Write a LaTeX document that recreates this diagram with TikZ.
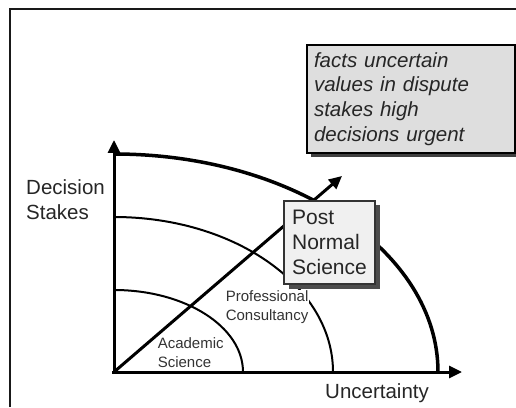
\documentclass[tikz,border=0pt]{standalone}
\usepackage{fontspec}
\setmainfont{Liberation Sans}
\usetikzlibrary{arrows.meta,shadows}
\begin{document}
\begin{tikzpicture}[x=1pt,y=1pt,
  axisline/.style={line width=3pt, -{Triangle[length=13pt,width=12pt]}},
  thickarc/.style={line width=3.5pt},
  thinarc/.style={line width=2pt},
  biglabel/.style={font=\fontsize{20.5}{25}\selectfont, align=left, inner sep=0pt, text=black!85},
  smalllabel/.style={font=\fontsize{15}{19}\selectfont, align=left, inner sep=0.6pt, fill=white, text=black!80},
  pnsbox/.style={draw=black!80, line width=1.3pt, fill=black!6,
    font=\fontsize{21}{25}\selectfont, align=left, text=black!85,
    minimum width=91pt, minimum height=83pt, inner sep=0pt,
    drop shadow={shadow xshift=4.5pt, shadow yshift=-4.5pt, fill=black!70, opacity=1}},
  factsbox/.style={draw=black, line width=2pt, fill=black!13,
    font=\fontsize{20.5}{24.7}\selectfont\itshape, align=left, text=black!85,
    text width=194pt, minimum height=108pt, inner xsep=7pt, inner ysep=0pt,
    drop shadow={shadow xshift=4pt, shadow yshift=-4pt, fill=black!75, opacity=1}}
]
\useasboundingbox (0,0) rectangle (516,407);

% outer frame (left and top edges)
\draw[line width=2pt, black!90] (10,0) -- (10,397.5) -- (516,397.5);

% axes
\coordinate (O) at (114,35);
\coordinate (ytip) at (114,267);
\coordinate (xtip) at (462,35);
\coordinate (dtip) at (342,231);
\draw[axisline] (114,33) -- (ytip);
\draw[axisline] (112,35) -- (xtip);

% quarter-ellipse boundaries of the three regions
\draw[thinarc] (243,35) arc[start angle=0, end angle=90, x radius=129pt, y radius=82pt];
\draw[thinarc] (333,35) arc[start angle=0, end angle=90, x radius=219pt, y radius=155pt];
\draw[thickarc] (438,35) arc[start angle=0, end angle=90, x radius=324pt, y radius=218pt];

% diagonal arrow towards post-normal science
\draw[axisline] (O) -- (dtip);

% region labels (base anchor sits on the last line)
\node[smalllabel, anchor=base west] (acad) at (157,40) {Academic\\Science};
\node[smalllabel, anchor=base west] (prof) at (225,87) {Professional\\Consultancy};

% post-normal science box
\node[pnsbox] (pns) at (329.5,164.5) {Post\\Normal\\Science};

% characteristics box
\node[factsbox, anchor=north west] (facts) at (306,363)
  {facts uncertain\\values in dispute\\stakes high\\decisions urgent};

% axis labels
\node[biglabel, anchor=north west] (ds) at (26,228) {Decision\\Stakes};
\node[biglabel, anchor=base west] (unc) at (325,9) {Uncertainty};
\end{tikzpicture}
\end{document}
